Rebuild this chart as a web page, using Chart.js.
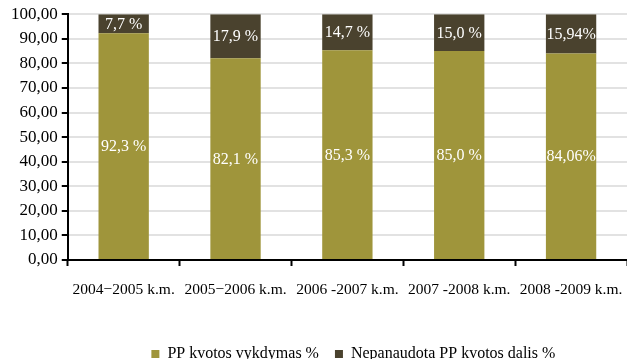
<!DOCTYPE html>
<html>
<head>
<meta charset="utf-8">
<script src="https://cdn.jsdelivr.net/npm/chart.js@4"></script>
<style>
  html, body { margin: 0; padding: 0; background: #fff; }
  #wrap { width: 627px; height: 359px; }
</style>
</head>
<body>
<div id="wrap"><canvas id="c" width="627" height="359"></canvas></div>
<script>
// Academic years
const categories = ["2004\u22122005 k.m.", "2005\u22122006 k.m.", "2006 -2007 k.m.", "2007 -2008 k.m.", "2008 -2009 k.m."];
// Share of quota used (%)
const usedValues = [92.3, 82.1, 85.3, 85.0, 84.06];
// Share of quota left unused (%)
const unusedValues = [7.7, 17.9, 14.7, 15.0, 15.94];
const usedLabels = ["92,3 %", "82,1 %", "85,3 %", "85,0 %", "84,06%"];
const unusedLabels = ["7,7 %", "17,9 %", "14,7 %", "15,0 %", "15,94%"];
const seriesNames = ["PP kvotos vykdymas %", "Nepanaudota PP kvotos dalis %"];

const serif = "'Liberation Serif', 'Times New Roman', serif";

// Writes each segment's label in the middle of its bar segment
const segmentLabels = {
  id: 'segmentLabels',
  afterDatasetsDraw(chart) {
    const ctx = chart.ctx;
    const texts = [usedLabels, unusedLabels];
    ctx.save();
    ctx.fillStyle = '#ffffff';
    ctx.font = "16px " + serif;
    ctx.textAlign = 'center';
    ctx.textBaseline = 'middle';
    chart.data.datasets.forEach((ds, di) => {
      chart.getDatasetMeta(di).data.forEach((bar, i) => {
        const p = bar.getProps(['x', 'y', 'base'], true);
        ctx.fillText(texts[di][i], p.x, (p.y + p.base) / 2 + 1);
      });
    });
    ctx.restore();
  }
};

// Centres the legend under the plot area rather than the whole canvas
const legendUnderPlot = {
  id: 'legendUnderPlot',
  afterLayout(chart) {
    const lg = chart.legend;
    if (!lg) return;
    const shift = (chart.chartArea.left + chart.chartArea.right) / 2 - (lg.left + lg.right) / 2 + 6;
    lg.left += shift;
    lg.right += shift;
  }
};

new Chart(document.getElementById('c'), {
  type: 'bar',
  data: {
    labels: categories,
    datasets: [
      { label: seriesNames[0], data: usedValues, backgroundColor: '#9f953b', barPercentage: 0.45, categoryPercentage: 1 },
      { label: seriesNames[1], data: unusedValues, backgroundColor: '#4a422e', barPercentage: 0.45, categoryPercentage: 1 }
    ]
  },
  options: {
    responsive: false,
    animation: false,
    layout: { padding: { left: 7, right: 0, top: 14, bottom: -13 } },
    plugins: {
      legend: {
        position: 'bottom',
        labels: {
          font: { family: serif, size: 16 },
          color: '#000',
          boxWidth: 8,
          boxHeight: 8,
          padding: 16
        }
      },
      tooltip: { enabled: false }
    },
    scales: {
      x: {
        stacked: true,
        grid: { drawOnChartArea: false, drawTicks: true, tickLength: 6, tickColor: '#000', tickWidth: 2 },
        border: { color: '#000', width: 2 },
        ticks: { color: '#000', font: { family: serif, size: 15.5 }, padding: 15, maxRotation: 0, autoSkip: false },
        afterFit: s => { s.height = 70; s.paddingRight = 0; }
      },
      y: {
        stacked: true,
        min: 0,
        max: 100,
        grid: { color: '#e2e2e2', lineWidth: 2, tickLength: 6, tickColor: '#000', tickWidth: 2 },
        border: { color: '#000', width: 2 },
        ticks: {
          stepSize: 10,
          color: '#000',
          font: { family: serif, size: 17 },
          padding: 4,
          callback: v => v.toFixed(2).replace('.', ',')
        }
      }
    }
  },
  plugins: [segmentLabels, legendUnderPlot]
});
</script>
</body>
</html>
